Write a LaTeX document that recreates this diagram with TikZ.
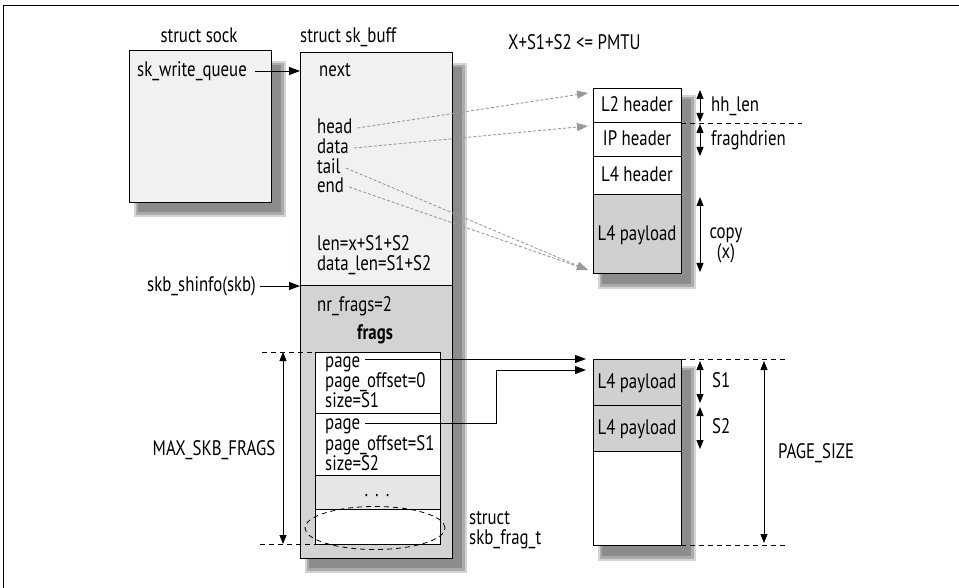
\documentclass[tikz,border=0pt]{standalone}
\usepackage{fontspec}
\setmainfont[FakeStretch=0.8]{PT Sans}
\usetikzlibrary{arrows.meta,calc,shapes.geometric}
\definecolor{boxfill}{HTML}{F0F1F3}
\definecolor{grayfill}{HTML}{D3D3D5}
\definecolor{dotfill}{HTML}{E6E6E7}
\definecolor{payfill}{HTML}{D0D0D0}
\definecolor{shA}{HTML}{D4D4D4}
\definecolor{shB}{HTML}{ABABAB}
\definecolor{shC}{HTML}{8C8C8C}
\definecolor{ptr}{HTML}{9A9A9A}
\newcommand\dropshadow[4]{%
  \fill[shA] ({#1-2},{#2-2}) rectangle ({#3+2},{#4+2});
  \fill[shB] (#1,#2) rectangle (#3,#4);
  \fill[shC] ({#1+2},{#2+2}) rectangle ({#3-3},{#4-3});}
\tikzset{
  every node/.style={font=\fontsize{21}{20}\selectfont},
  box/.style={draw, line width=1pt, anchor=north west, inner sep=0, outer sep=0},
  txt/.style={anchor=west, inner sep=0, text height=15pt, text depth=3pt},
  ctxt/.style={anchor=center, inner sep=0, text height=15pt, text depth=3pt},
  arr/.style={line width=0.9pt, -{Triangle[length=11pt,width=8pt]}},
  dim/.style={line width=0.9pt, {Triangle[length=9pt,width=7pt]}-{Triangle[length=9pt,width=7pt]}},
  ptrline/.style={ptr, line width=0.9pt, dash pattern=on 3pt off 2pt, -{Triangle[length=11pt,width=8pt]}},
  guide/.style={line width=0.8pt, dash pattern=on 5pt off 4pt},
}
\begin{document}
\begin{tikzpicture}[x=1pt,y=-1pt]
\useasboundingbox (0,0) rectangle (959,588);
% outer frame
\draw[line width=0.9pt] (3,588) -- (3,5) -- (959,5);

% shadows
\dropshadow{136}{63}{284}{215}
\dropshadow{307}{65}{465}{571}
\dropshadow{600}{97}{694}{287}
\dropshadow{600}{368}{694}{559}

% struct sock
\node[ctxt] (socktitle) at (199,37) {struct sock};
\node[box, fill=boxfill, minimum width=142, minimum height=152] (sock) at (129,51) {};
\node[txt] (swq) at (137,71) {sk\_write\_queue};

% struct sk_buff
\node[txt] (skbtitle) at (300,37) {struct sk\_buff};
\node[box, fill=boxfill, minimum width=152, minimum height=233] (skbtop) at (300,53) {};
\node[box, fill=grayfill, minimum width=152, minimum height=272] (skbbot) at (300,286) {};
\node[txt] (next) at (319,71) {next};
\node[txt] (head) at (317,128) {head};
\node[txt] (data) at (317,148) {data};
\node[txt] (tail) at (317,168) {tail};
\node[txt] (end) at (317,187) {end};
\node[txt] (len) at (317,245) {len=x+S1+S2};
\node[txt] (dlen) at (317,265) {data\_len=S1+S2};
\node[txt] (nrf) at (317,306) {nr\_frags=2};
\node[ctxt] (frags) at (375,333) {\bfseries frags};

% frag array
\node[box, fill=white, minimum width=125, minimum height=61] (f1) at (315,352) {};
\node[box, fill=white, minimum width=125, minimum height=62] (f2) at (315,413) {};
\node[box, fill=dotfill, minimum width=125, minimum height=34] (f3) at (315,475) {};
\node[box, fill=white, minimum width=125, minimum height=35] (f4) at (315,509) {};
\node[txt] (pg1) at (325,361) {page};
\node[txt] (po1) at (325,381) {page\_offset=0};
\node[txt] (sz1) at (325,401) {size=S1};
\node[txt] (pg2) at (325,423) {page};
\node[txt] (po2) at (325,444) {page\_offset=S1};
\node[txt] (sz2) at (325,464) {size=S2};
\node[ctxt] (dots) at (377,490) {.\hspace{7pt}.\hspace{7pt}.};
\node[draw, ellipse, guide, minimum width=140, minimum height=43, inner sep=0] (ell) at (375,528) {};
\node[anchor=west, align=left, inner sep=0, font=\fontsize{21}{20}\selectfont] (sfrag) at (469,530) {struct\\skb\_frag\_t};

% pointers from sock / shinfo
\draw[arr] ([xshift=8pt]swq.east) -- (swq -| skbtop.west);
\node[txt] (shinfo) at (147,285) {skb\_shinfo(skb)};
\draw[arr] (260,286) -- (skbbot.north west);

% MAX_SKB_FRAGS
\coordinate (mtop) at (283,352);
\coordinate (mbot) at (283,544);
\draw[guide] (262,352) -- (f1.north west);
\draw[guide] (260,544) -- (f4.south west);
\draw[dim] (mtop) -- (mbot);
\node[ctxt] (maxf) at (214,449) {MAX\_SKB\_FRAGS};

% PMTU
\node[txt] (pmtu) at (508,44) {X+S1+S2 <= PMTU};

% packet box
\node[box, fill=white, minimum width=88, minimum height=34] (l2) at (593,89) {};
\node[ctxt] at (l2.center) {L2 header};
\node[box, fill=white, minimum width=88, minimum height=34] (ip) at (593,123) {};
\node[ctxt] at (ip.center) {IP header};
\node[box, fill=white, minimum width=88, minimum height=38] (l4h) at (593,157) {};
\node[ctxt] at (l4h.center) {L4 header};
\node[box, fill=payfill, minimum width=88, minimum height=79] (l4p) at (593,195) {};
\node[ctxt] at (l4p.center) {L4 payload};

\draw[dim] (700,90) -- (700,122);
\node[txt] (hh) at (711,106) {hh\_len};
\draw[dim] (700,124) -- (700,156);
\node[txt] (frh) at (711,140) {fraghdrien};
\draw[dim] (700,197) -- (700,272);
\node[ctxt] (copy) at (726,233) {copy};
\node[ctxt] (cx) at (726,253) {(x)};
\draw[guide] (ip.north east) -- (802,123);

% pointer lines
\draw[ptrline] ([xshift=5pt]head.east) -- ([xshift=-5pt,yshift=-4pt]l2.north west);
\draw[ptrline] ([xshift=5pt]data.east) -- ([xshift=-5pt,yshift=-3pt]ip.north west);
\draw[ptrline] ([xshift=5pt]tail.east) -- ([xshift=-5pt,yshift=4pt]l4p.south west);
\draw[ptrline] ([xshift=5pt]end.east) -- ([xshift=-5pt,yshift=4pt]l4p.south west);

% page box
\node[box, fill=payfill, minimum width=88, minimum height=46] (p1) at (593,359) {};
\node[ctxt] at (p1.center) {L4 payload};
\node[box, fill=payfill, minimum width=88, minimum height=46] (p2) at (593,405) {};
\node[ctxt] at (p2.center) {L4 payload};
\node[box, fill=white, minimum width=88, minimum height=94] (p3) at (593,451) {};

\draw[dim] (700,361) -- (700,403);
\node[txt] (s1) at (712,381) {S1};
\draw[dim] (700,407) -- (700,449);
\node[txt] (s2) at (712,427) {S2};
\draw[guide] (p1.north east) -- (788,359);
\draw[guide] (p3.south east) -- (788,545);
\draw[dim] (764,361) -- (764,543);
\node[txt] (psz) at (778,452) {PAGE\_SIZE};

% page pointers
\draw[arr] ([xshift=5pt]pg1.east |- p1.north west) -- ([xshift=-7pt]p1.north west);
\coordinate (bend) at (496,370);
\draw[arr] ([xshift=5pt]pg2.east) -| (bend) -- ([xshift=-7pt,yshift=-11pt]p1.north west);
\end{tikzpicture}
\end{document}
